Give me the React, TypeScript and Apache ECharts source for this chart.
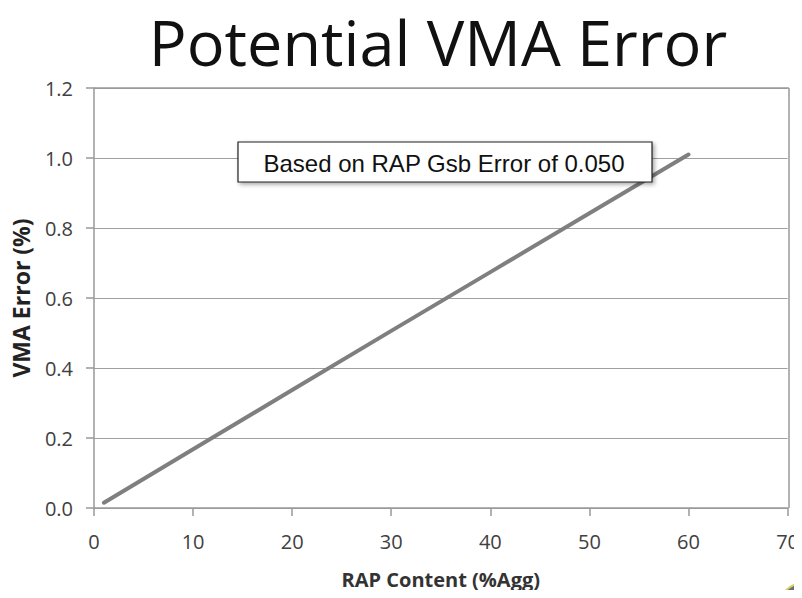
import React, { useEffect, useRef } from "react";
import * as echarts from "echarts";

const rapContent = [1, 10, 20, 30, 40, 50, 60];
const vmaError = [0.015, 0.168, 0.337, 0.506, 0.674, 0.842, 1.01];
const xTicks = [0, 10, 20, 30, 40, 50, 60, 70];
const yTicks = [0, 0.2, 0.4, 0.6, 0.8, 1.0, 1.2];
const titleText = "Potential VMA Error";
const noteText = "Based on RAP Gsb Error of 0.050";

const GL = 94;
const GR = 13;
const GT = 88;
const GB = 90;
const W = 802;
const H = 598;

export default function App() {
  const ref = useRef<HTMLDivElement>(null);
  useEffect(() => {
    if (!ref.current) return;
    const chart = echarts.init(ref.current, null, { renderer: "svg" });
    const labelFont = "'Open Sans', sans-serif";
    chart.setOption({
      animation: false,
      backgroundColor: "#ffffff",
      grid: { left: GL, right: GR, top: GT, bottom: GB, show: false },
      xAxis: {
        type: "value",
        min: xTicks[0],
        max: xTicks[xTicks.length - 1],
        interval: 10,
        name: "RAP Content (%Agg)",
        nameLocation: "middle",
        nameGap: 61,
        nameTextStyle: { fontFamily: labelFont, fontSize: 20, fontWeight: "bold", color: "#333" },
        axisLine: { show: true, lineStyle: { color: "#999", width: 1.5 } },
        axisTick: { show: true, length: 8, lineStyle: { color: "#999", width: 1.5 } },
        axisLabel: { fontFamily: labelFont, fontSize: 20, color: "#404040", margin: 23 },
        splitLine: { show: false },
      },
      yAxis: {
        type: "value",
        min: yTicks[0],
        max: yTicks[yTicks.length - 1],
        interval: 0.2,
        name: "VMA Error (%)",
        nameLocation: "middle",
        nameGap: 62,
        nameTextStyle: { fontFamily: labelFont, fontSize: 23, fontWeight: "bold", color: "#222" },
        axisLine: { show: true, lineStyle: { color: "#999", width: 1.5 } },
        axisTick: { show: true, length: 8, lineStyle: { color: "#999", width: 1.5 } },
        axisLabel: {
          fontFamily: labelFont,
          fontSize: 20,
          color: "#404040",
          margin: 21,
          formatter: (v: number) => v.toFixed(1),
        },
        splitLine: { show: true, lineStyle: { color: "#a0a0a0", width: 1 } },
      },
      series: [
        {
          type: "line",
          data: rapContent.map((x, i) => [x, vmaError[i]]),
          symbol: "none",
          lineStyle: { color: "#7f7f7f", width: 4, cap: "round" },
          z: 3,
        },
      ],
      graphic: [
        {
          type: "text",
          x: 438,
          y: 41,
          style: {
            text: titleText,
            fontFamily: labelFont,
            fontSize: 63,
            lineHeight: 66,
            fill: "#111111",
            textAlign: "center",
            textVerticalAlign: "middle",
          },
          z: 20,
        },
        {
          type: "line",
          shape: { x1: GL, y1: GT, x2: W - GR, y2: GT },
          style: { stroke: "#999", lineWidth: 1.5 },
          z: 1,
        },
        {
          type: "line",
          shape: { x1: W - GR, y1: GT, x2: W - GR, y2: H - GB },
          style: { stroke: "#999", lineWidth: 1.5 },
          z: 1,
        },
        {
          type: "rect",
          shape: { x: 238, y: 142, width: 414, height: 40 },
          style: {
            fill: "#ffffff",
            stroke: "#222",
            lineWidth: 1.2,
            shadowBlur: 4,
            shadowOffsetX: 2,
            shadowOffsetY: 2,
            shadowColor: "rgba(0,0,0,0.35)",
          },
          z: 10,
        },
        {
          type: "text",
          x: 444,
          y: 163,
          style: {
            text: noteText,
            fontFamily: "'Liberation Sans', Arial, sans-serif",
            fontSize: 24,
            fill: "#111",
            textAlign: "center",
            textVerticalAlign: "middle",
          },
          z: 11,
        },
        {
          type: "ellipse",
          shape: { cx: 808, cy: 612, rx: 32, ry: 30 },
          style: { fill: "#6e6e6e", stroke: "#d8cf6a", lineWidth: 2 },
          z: 5,
        },
      ],
    });
    return () => chart.dispose();
  }, []);
  return <div ref={ref} style={{ width: W, height: H, margin: -8 }} />;
}
